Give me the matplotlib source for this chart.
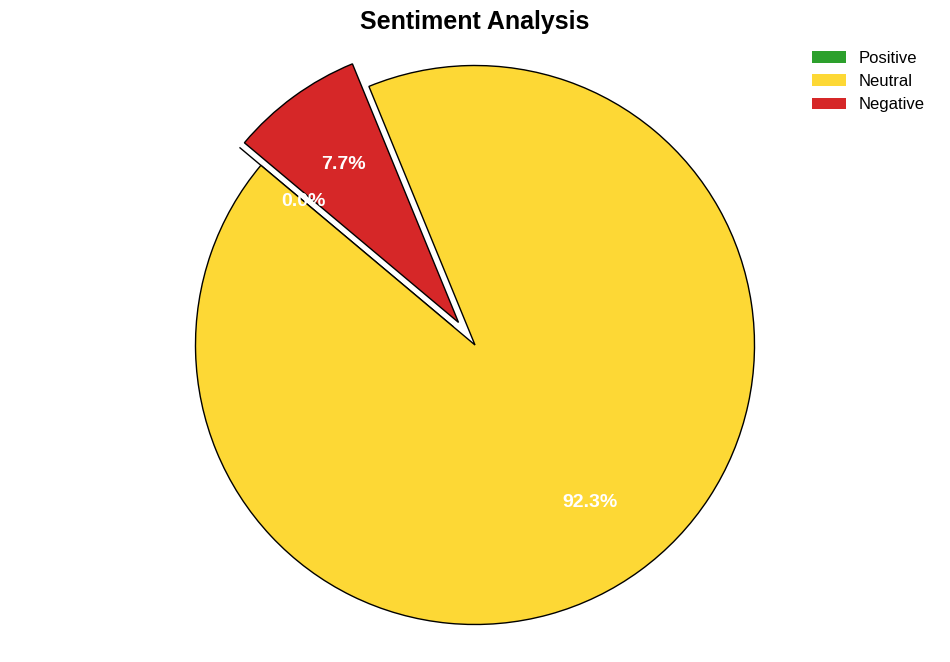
import matplotlib
matplotlib.use("Agg")
import matplotlib.pyplot as plt
from matplotlib.patches import Patch

plt.rcParams['font.family'] = ['Liberation Sans', 'DejaVu Sans']

# sentiment counts
labels = ['Positive', 'Neutral', 'Negative']
counts = [0, 12, 1]
colors = ['#2ca02c', '#fdd835', '#d62728']
explode = [0.1, 0, 0.1]

fig = plt.figure(figsize=(9.5, 6.62), dpi=100)
ax = fig.add_axes([0, 0, 1, 1 - 37.5 / 662])

wedges, texts, autotexts = ax.pie(
    counts, colors=colors, explode=explode, startangle=140,
    autopct='%1.1f%%', pctdistance=0.7,
    wedgeprops={'edgecolor': 'black', 'linewidth': 1},
    textprops={'color': 'white', 'fontsize': 14, 'fontweight': 'bold'})

# place the pie like the original: centre at (475, 345) px, radius ~279 px
r = 279.5
ax.set_xlim(-475 / r, 475 / r)
ax.set_ylim(-317 / r, (624.5 - 317) / r)

ax.set_title('Sentiment Analysis', fontsize=18, fontweight='bold')

handles = [Patch(facecolor=c, edgecolor='none') for c in colors]
ax.legend(handles, labels, loc='upper right', frameon=False, fontsize=12,
          bbox_to_anchor=(0.9894, 0.946), bbox_transform=fig.transFigure)

fig.savefig('out.png', dpi=100)
